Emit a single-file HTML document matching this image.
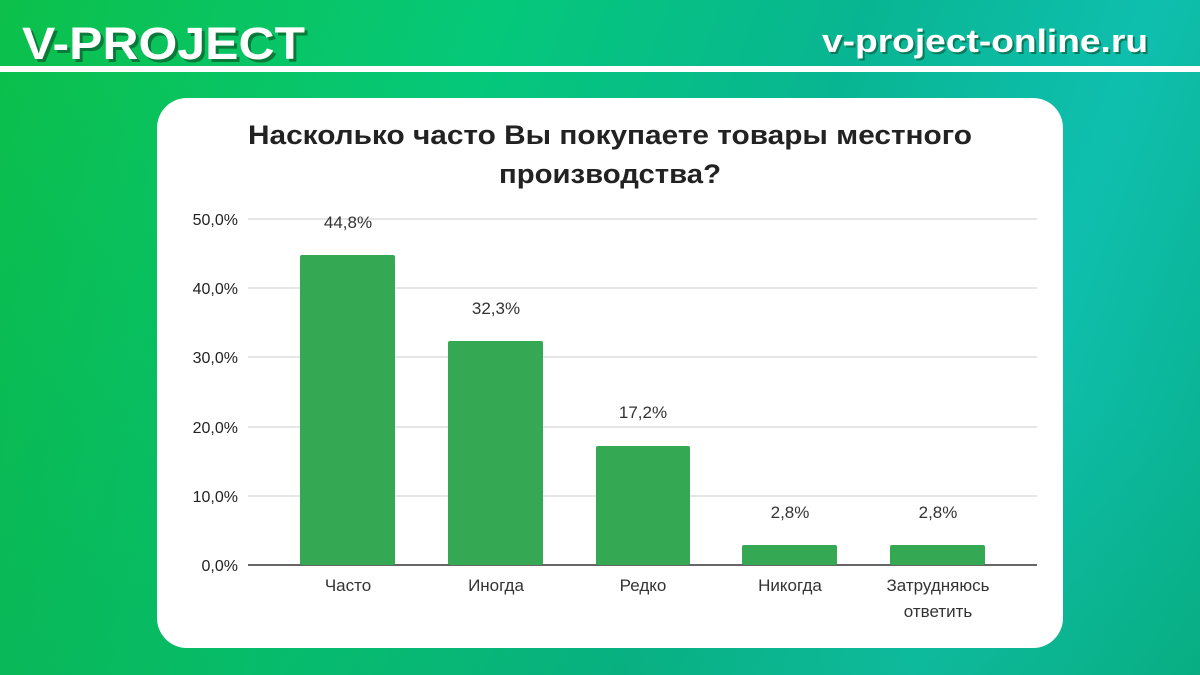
<!DOCTYPE html>
<html><head><meta charset="utf-8"><style>
body{margin:0;width:1200px;height:675px;overflow:hidden;font-family:"Liberation Sans",sans-serif;
background:linear-gradient(110deg,#0cc04a 0%,#05c87a 35%,#08b592 60%,#0fbfae 80%,#08b08a 100%);position:relative}
.bg2{position:absolute;left:0;top:0;width:1200px;height:675px;background:linear-gradient(200deg,rgba(0,150,140,0) 40%,rgba(10,160,70,0.35) 100%)}
.line{position:absolute;left:0;top:66px;width:1200px;height:6px;background:#fff}
.card{position:absolute;left:157px;top:98px;width:906px;height:550px;background:#fff;border-radius:30px}
</style></head><body>
<div class="bg2"></div>
<div class="line"></div>
<div class="card"></div>
<svg width="1200" height="675" style="position:absolute;left:0;top:0" font-family="Liberation Sans, sans-serif">
<text x="25" y="62" font-size="45" font-weight="bold" fill="#0a7a3a" textLength="283" lengthAdjust="spacingAndGlyphs">V-PROJECT</text>
<text x="22" y="59" font-size="45" font-weight="bold" fill="#fff" textLength="283" lengthAdjust="spacingAndGlyphs">V-PROJECT</text>
<text x="824" y="54" font-size="32" font-weight="bold" fill="#0a7a5a" textLength="326" lengthAdjust="spacingAndGlyphs">v-project-online.ru</text>
<text x="822" y="52" font-size="32" font-weight="bold" fill="#fff" textLength="326" lengthAdjust="spacingAndGlyphs">v-project-online.ru</text>
<text x="248" y="144" font-size="27" font-weight="bold" fill="#222" textLength="724" lengthAdjust="spacingAndGlyphs">Насколько часто Вы покупаете товары местного</text>
<text x="499" y="183" font-size="27" font-weight="bold" fill="#222" textLength="222" lengthAdjust="spacingAndGlyphs">производства?</text>
<g stroke="#ccc" stroke-width="1">
<line x1="248" x2="1037" y1="219" y2="219"/><line x1="248" x2="1037" y1="288" y2="288"/>
<line x1="248" x2="1037" y1="357" y2="357"/><line x1="248" x2="1037" y1="427" y2="427"/>
<line x1="248" x2="1037" y1="496" y2="496"/></g>
<line x1="248" x2="1037" y1="565" y2="565" stroke="#333" stroke-width="1.5"/>
<g font-size="16" fill="#222" text-anchor="end">
<text x="238" y="225">50,0%</text><text x="238" y="294">40,0%</text><text x="238" y="363">30,0%</text>
<text x="238" y="433">20,0%</text><text x="238" y="502">10,0%</text><text x="238" y="571">0,0%</text></g>
<g fill="#34a853">
<rect x="300" y="255" width="95" height="310" rx="2"/>
<rect x="448" y="341" width="95" height="224" rx="2"/>
<rect x="596" y="446" width="94" height="119" rx="2"/>
<rect x="742" y="545" width="95" height="20" rx="2"/>
<rect x="890" y="545" width="95" height="20" rx="2"/></g>
<g font-size="17" fill="#333" text-anchor="middle">
<text x="348" y="228">44,8%</text><text x="496" y="314">32,3%</text><text x="643" y="418">17,2%</text>
<text x="790" y="518">2,8%</text><text x="938" y="518">2,8%</text>
<text x="348" y="591">Часто</text><text x="496" y="591">Иногда</text><text x="643" y="591">Редко</text>
<text x="790" y="591">Никогда</text><text x="938" y="591">Затрудняюсь</text><text x="938" y="617">ответить</text></g>
</svg>
</body></html>
